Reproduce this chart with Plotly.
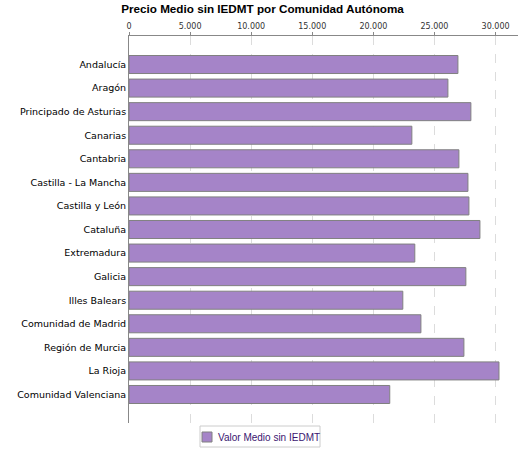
import plotly.graph_objects as go

# Precio medio sin IEDMT por comunidad autónoma
comunidades = [
    "Andalucía", "Aragón", "Principado de Asturias", "Canarias", "Cantabria",
    "Castilla - La Mancha", "Castilla y León", "Cataluña", "Extremadura",
    "Galicia", "Illes Balears", "Comunidad de Madrid", "Región de Murcia",
    "La Rioja", "Comunidad Valenciana",
]
valor_medio = [
    26920, 26100, 27980, 23150, 27000,
    27740, 27820, 28720, 23390,
    27570, 22410, 23890, 27410,
    30280, 21340,
]
serie = "Valor Medio sin IEDMT"
x_ticks = [0, 5000, 10000, 15000, 20000, 25000, 30000]

BAR_COLOR = "#a584c8"
EDGE = "#808080"

fig = go.Figure(go.Bar(
    x=valor_medio, y=comunidades, orientation="h", name=serie,
    marker=dict(color=BAR_COLOR, line=dict(color=EDGE, width=1)),
    showlegend=False,
))

# plot area: x 129..518, y 36..423 (pixels)
L, R, T, B = 129, 518, 36, 423


def px_x(p):
    return (p - L) / (R - L)


def px_y(p):
    return (B - p) / (B - T)


# legend drawn by hand (small box under the plot)
fig.add_shape(type="rect", xref="paper", yref="paper",
              x0=px_x(200), x1=px_x(320), y0=px_y(447), y1=px_y(426),
              line=dict(color="#cccccc", width=1), fillcolor="white")
fig.add_shape(type="rect", xref="paper", yref="paper",
              x0=px_x(202), x1=px_x(212), y0=px_y(442), y1=px_y(432),
              line=dict(color=EDGE, width=1), fillcolor=BAR_COLOR)
fig.add_annotation(text=serie, xref="paper", yref="paper",
                   x=px_x(216), y=px_y(437), xanchor="left", yanchor="middle",
                   showarrow=False,
                   font=dict(family="Liberation Sans, Arial", size=10, color="#3a1670"))

fig.update_layout(
    width=525, height=450,
    margin=dict(l=L, r=525 - R, t=T, b=450 - B, autoexpand=False),
    paper_bgcolor="white", plot_bgcolor="white",
    separators=",.",
    bargap=0.235,
    title=dict(
        text="<b>Precio Medio sin IEDMT por Comunidad Autónoma</b>",
        x=0.5, xref="container", xanchor="center",
        y=1 - 9 / 450, yref="container", yanchor="middle",
        font=dict(family="Liberation Sans, Arial", size=11.7, color="#000000"),
    ),
    xaxis=dict(
        side="top", range=[0, 31836], tickvals=x_ticks, tickformat=",d",
        showline=True, linecolor="#888888", linewidth=1,
        ticks="outside", ticklen=3, tickcolor="#888888",
        showgrid=True, gridcolor="#dcdcdc", griddash="dash", gridwidth=1,
        zeroline=False, automargin=False,
        tickfont=dict(family="DejaVu Sans", size=8, color="#333333"),
    ),
    yaxis=dict(
        range=[len(comunidades) - 1 + 1.21, -1.21],
        showline=True, linecolor="#888888", linewidth=1,
        showgrid=False, zeroline=False, ticks="", automargin=False,
        tickfont=dict(family="DejaVu Sans", size=9.5, color="#000000"),
    ),
)

fig.write_html("out.html", config={"displayModeBar": False},
               post_script="document.body.style.margin='0px';")
